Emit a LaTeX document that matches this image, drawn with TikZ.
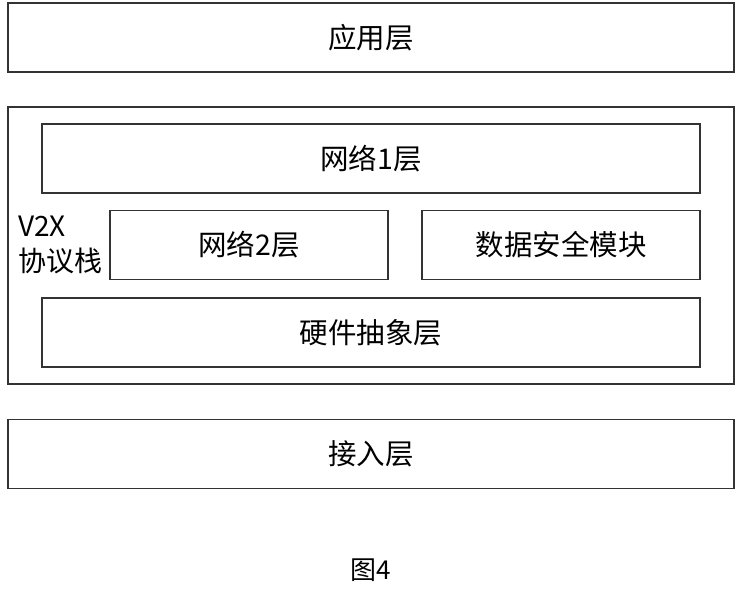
\documentclass[tikz,border=0pt]{standalone}
\usepackage{fontspec}
\setmainfont{Noto Sans CJK SC}
\usetikzlibrary{positioning}

\tikzset{
  layer/.style={draw=black!80, line width=1.6pt, minimum height=69pt,
    font=\fontsize{28.5}{32}\selectfont, inner sep=0pt},
  wide/.style={layer, minimum width=726pt},
  inner/.style={layer, minimum width=658pt},
  half/.style={layer, minimum width=278pt}
}

\begin{document}
\begin{tikzpicture}[x=1pt, y=-1pt]
\useasboundingbox (0,0) rectangle (743,591);

% top and bottom layers
\node[wide] (app) at (371,37.5) {应用层};
\node[wide] (access) at (371,454) {接入层};

% V2X stack
\node[layer, minimum width=726pt, minimum height=277pt] (stack) at (371,245.5) {};
\node[inner] (net1) at (371,158.5) {网络1层};
\node[half] (net2) at (249,245) {网络2层};
\node[half] (sec) at (561,245) {数据安全模块};
\node[inner] (hal) at (371,332.5) {硬件抽象层};
\node[align=left, anchor=west, inner sep=0pt, font=\fontsize{28}{35}\selectfont] (v2x) at (18,245) {V2X\\协议栈};

\node[font=\fontsize{26}{30}\selectfont] (cap) at (371,570) {图4};
\end{tikzpicture}
\end{document}
